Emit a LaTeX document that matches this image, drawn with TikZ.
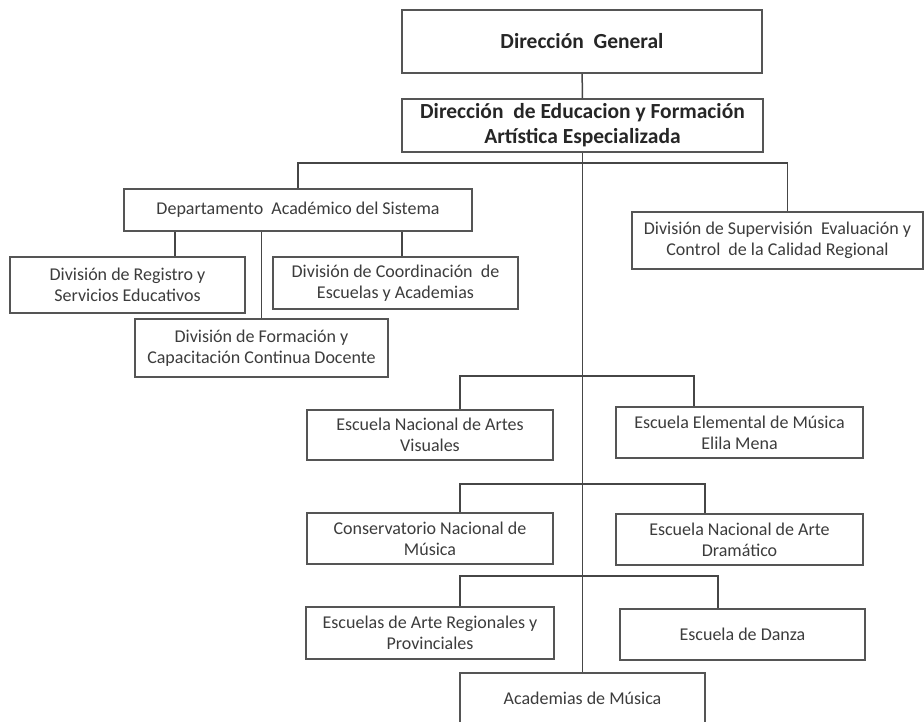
\documentclass[tikz,border=0pt]{standalone}
\usepackage{fontspec}
\setmainfont{Carlito}
\usetikzlibrary{positioning}
\definecolor{boxgray}{RGB}{85,85,85}
\definecolor{linegray}{RGB}{70,70,70}
\definecolor{txtgray}{RGB}{60,60,60}

\begin{document}
\begin{tikzpicture}[x=1pt, y=-1pt,
    unit/.style={draw=boxgray, line width=1.5pt, fill=white, align=center,
                 inner sep=0pt, font=\fontsize{18}{21}\selectfont, text=txtgray},
    head/.style={unit, font=\bfseries\fontsize{21.5}{25}\selectfont, text=black!85},
    link/.style={draw=linegray, line width=1.5pt}
  ]
    \useasboundingbox (0,0) rectangle (924,721);

    % direction
    \node[head, minimum width=360, minimum height=63] (dg)  at (582,41.5)  {Dirección\ \ General};
    \node[head, minimum width=361, minimum height=53] (dfe) at (582.5,125.5)
      {Dirección\ \ de Educacion y Formación\\Artística Especializada};

    % academic department
    \node[unit, minimum width=348, minimum height=42] (depto) at (298,210)   {Departamento\ \ Académico del Sistema};
    \node[unit, minimum width=235, minimum height=56] (reg)   at (127.5,285) {División de Registro y\\Servicios Educativos};
    \node[unit, minimum width=245, minimum height=52] (coord) at (395.5,283) {División de Coordinación\ \ de\\Escuelas y Academias};
    \node[unit, minimum width=253, minimum height=58] (form)  at (261.5,348) {División de Formación y\\Capacitación Continua Docente};
    \node[unit, minimum width=291, minimum height=57] (sup)   at (777.5,240.5)
      {División de Supervisión\ \ Evaluación y\\Control\ \ de la Calidad Regional};

    % schools
    \node[unit, minimum width=246, minimum height=50] (enav)  at (430,435)   {Escuela Nacional de Artes\\Visuales};
    \node[unit, minimum width=247, minimum height=51] (eem)   at (739.5,432.5) {Escuela Elemental de Música\\Elila Mena};
    \node[unit, minimum width=246, minimum height=51] (cnm)   at (430,538.5) {Conservatorio Nacional de\\Música};
    \node[unit, minimum width=247, minimum height=51] (enad)  at (739.5,539.5) {Escuela Nacional de Arte\\Dramático};
    \node[unit, minimum width=248, minimum height=52] (earp)  at (430,633)   {Escuelas de Arte Regionales y\\Provinciales};
    \node[unit, minimum width=245, minimum height=51] (danza) at (742.5,634.5) {Escuela de Danza};
    \node[unit, minimum width=245, minimum height=51] (acad)  at (582.5,698.5) {Academias de Música};

    % junctions on the main line
    \coordinate (j0) at (582,163);
    \coordinate (j1) at (582,376);
    \coordinate (j2) at (582,484);
    \coordinate (j3) at (582,576);
    \coordinate (rt) at ([xshift=47.5pt]reg.north);
    \coordinate (ct) at ([xshift=6.5pt]coord.north);

    % links
    \draw[link] (dg) -- (dfe);
    \draw[link] (dfe) -- (acad);
    \draw[link] (depto.north) |- (j0) -| ([xshift=10pt]sup.north);
    \draw[link] (rt) -- (rt |- depto.south);
    \draw[link] (ct) -- (ct |- depto.south);
    \draw[link] (form.north) -- (form.north |- depto.south);
    \draw[link] ([xshift=30pt]enav.north) |- (j1) -| ([xshift=-45.5pt]eem.north);
    \draw[link] ([xshift=30pt]cnm.north) |- (j2) -| ([xshift=-34.5pt]enad.north);
    \draw[link] ([xshift=30pt]earp.north) |- (j3) -| ([xshift=-24.5pt]danza.north);
\end{tikzpicture}
\end{document}
